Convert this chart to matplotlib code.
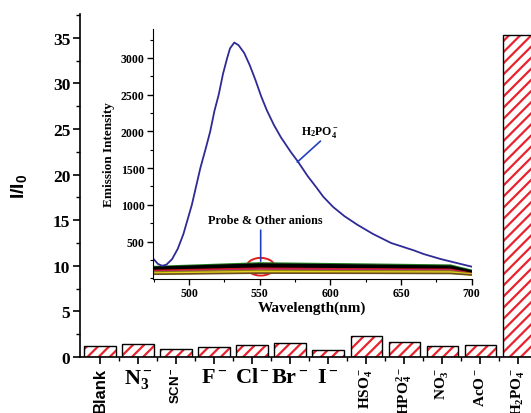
import matplotlib
matplotlib.use('Agg')
import matplotlib.pyplot as plt
import numpy as np
from matplotlib.ticker import MultipleLocator
from matplotlib.patches import Ellipse

plt.rcParams['font.family'] = 'Liberation Serif'
plt.rcParams['font.weight'] = 'bold'
plt.rcParams['axes.labelweight'] = 'bold'
plt.rcParams['mathtext.fontset'] = 'custom'
plt.rcParams['mathtext.rm'] = 'Liberation Serif:bold'
plt.rcParams['mathtext.bf'] = 'Liberation Serif:bold'
plt.rcParams['mathtext.it'] = 'Liberation Serif:bold:italic'
plt.rcParams['mathtext.sf'] = 'Liberation Sans:bold'
plt.rcParams['hatch.linewidth'] = 1.6

# bar chart data (I/I0)
anions = ['Blank', 'N3-', 'SCN-', 'F-', 'Cl-', 'Br-', 'I-', 'HSO4-', 'HPO4 2-', 'NO3-', 'AcO-', 'H2PO4-']
ratio = [1.2, 1.4, 0.9, 1.05, 1.35, 1.5, 0.75, 2.3, 1.6, 1.2, 1.35, 35.3]
tick_labels = ['Blank', r'$\mathrm{N_3^-}$', r'$\mathsf{SCN^-}$', r'$\mathrm{F^-}$', r'$\mathrm{Cl^-}$',
               r'$\mathrm{Br^-}$', r'$\mathrm{I^-}$', r'$\mathrm{HSO_4^-}$', r'$\mathrm{HPO_4^{2-}}$',
               r'$\mathrm{NO_3^-}$', r'$\mathrm{AcO^-}$', r'$\mathrm{H_2PO_4^-}$']
rotated = [True, False, True, False, False, False, False, True, True, True, True, True]

# inset: emission spectrum with H2PO4-
wl_h2po4 = [475, 478, 481, 484, 488, 492, 496, 499, 502, 505, 508, 512, 515, 518, 521, 524, 527, 529,
            532, 535, 539, 543, 547, 551, 555, 560, 565, 572, 577, 584, 590, 595, 602, 610, 619, 630,
            643, 659, 666, 678, 690, 700]
em_h2po4 = [260, 195, 170, 185, 260, 400, 600, 800, 1000, 1250, 1500, 1780, 2000, 2280, 2500, 2780,
            3000, 3130, 3210, 3175, 3070, 2900, 2700, 2480, 2290, 2090, 1920, 1720, 1590, 1390, 1240,
            1110, 970, 845, 730, 605, 480, 380, 330, 262, 205, 158]

# probe and other anions (flat spectra)
wl_other = [475, 550, 620, 685, 700]
em_green = [150, 200, 185, 170, 100]
em_black1 = [140, 185, 170, 155, 90]
em_black2 = [130, 170, 155, 145, 80]
em_black3 = [120, 160, 150, 140, 75]
em_red = [105, 135, 125, 120, 65]
em_magenta = [95, 125, 118, 112, 60]
em_olive = [80, 100, 95, 92, 55]
em_yellow = [65, 85, 80, 78, 50]
em_brown = [55, 70, 68, 65, 45]

fig = plt.figure(figsize=(5.31, 4.14), dpi=100)
ax = fig.add_axes([0.1507, 0.1353, 0.868, 0.8285])

x = np.arange(len(anions))
ax.bar(x, ratio, width=0.82, color='white', edgecolor='#e8232e', hatch='///', linewidth=0)
ax.bar(x, ratio, width=0.82, fill=False, edgecolor='black', linewidth=1.0)
ax.set_xlim(-0.526, 11.6)
ax.set_ylim(0, 37.6)
ax.spines['top'].set_visible(False)
ax.spines['right'].set_visible(False)
ax.spines['left'].set_linewidth(1.2)
ax.spines['bottom'].set_linewidth(1.2)
ax.set_xticks(x)
ax.set_xticks(x[:-1] + 0.5, minor=True)
ax.set_xticklabels(tick_labels)
ax.yaxis.set_major_locator(MultipleLocator(5))
ax.yaxis.set_minor_locator(MultipleLocator(2.5))
ax.tick_params(direction='out', length=5, width=1.2, labelsize=12.5, pad=2)
ax.tick_params(which='minor', direction='out', length=3, width=1.0)
ax.tick_params(axis='x', pad=2)
for lab, rot in zip(ax.get_xticklabels(), rotated):
    if rot:
        lab.set_rotation(90)
        lab.set_fontsize(11)
    else:
        lab.set_fontsize(16)
lbl = ax.get_xticklabels()
lbl[0].set_fontfamily('Liberation Sans')
lbl[0].set_fontsize(12)
lbl[2].set_fontsize(9.5)
ax.set_ylabel(r'$\mathsf{I/I_0}$', fontsize=14, labelpad=17)

# inset
ins = fig.add_axes([0.2881, 0.3237, 0.6002, 0.6039])
ins.set_facecolor('none')
for em, c, lw in [(em_green, '#1f7a1f', 2.0), (em_black1, 'black', 2.0), (em_black2, 'black', 2.0),
                  (em_black3, 'black', 2.0), (em_red, '#e01010', 1.3), (em_magenta, '#c0206a', 1.2),
                  (em_olive, '#8a7a10', 1.8), (em_yellow, '#e0d020', 1.8), (em_brown, '#6b4a20', 1.2)]:
    ins.plot(wl_other, em, color=c, linewidth=lw)
ins.plot(wl_h2po4, em_h2po4, color='#2e2a96', linewidth=1.3)
ins.set_xlim(474.5, 700)
ins.set_ylim(-10, 3395)
ins.spines['top'].set_visible(False)
ins.spines['right'].set_visible(False)
ins.set_xticks([500, 550, 600, 650, 700])
ins.xaxis.set_minor_locator(MultipleLocator(25))
ins.set_yticks([500, 1000, 1500, 2000, 2500, 3000])
ins.yaxis.set_minor_locator(MultipleLocator(250))
ins.tick_params(direction='out', length=4, width=1.0, labelsize=8.5, pad=2)
ins.tick_params(which='minor', direction='out', length=2.5, width=0.8)
ins.set_xlabel('Wavelength(nm)', fontsize=11, labelpad=1)
ins.set_ylabel('Emission Intensity', fontsize=9.5, labelpad=4)

ins.annotate('', xy=(576.6, 1582), xytext=(593, 1868),
             arrowprops=dict(arrowstyle='-', color='#2040c0', lw=1.2, shrinkA=0, shrinkB=0))
ins.text(579.5, 2005, r'$\mathrm{H_2PO_4^-}$', fontsize=8.5, ha='left', va='center')
ins.annotate('', xy=(550.7, 232), xytext=(550.7, 655),
             arrowprops=dict(arrowstyle='-', color='#2040c0', lw=1.2, shrinkA=0, shrinkB=0))
ins.text(554, 795, 'Probe & Other anions', fontsize=8.7, ha='center', va='center')
ins.add_patch(Ellipse((550.7, 157), width=19.8, height=241, fill=False,
                      edgecolor='#e02020', linewidth=1.4))

fig.savefig('out.png', dpi=100)
